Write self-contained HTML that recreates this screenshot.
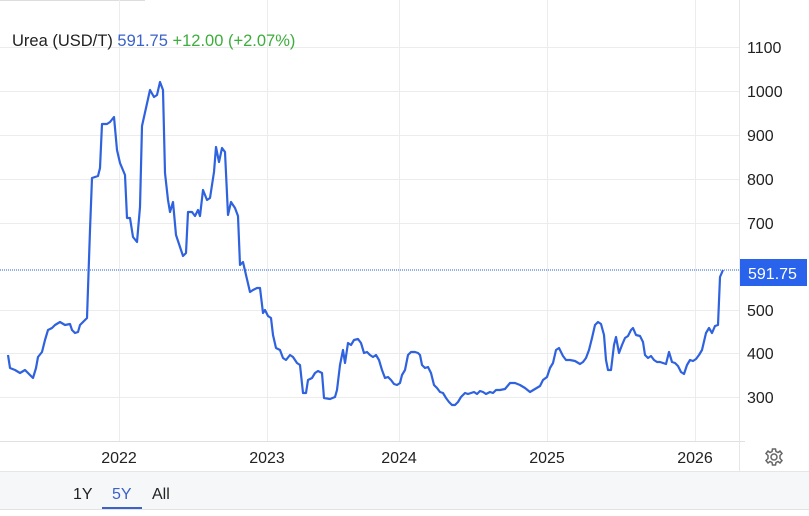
<!DOCTYPE html>
<html><head><meta charset="utf-8"><style>
body{margin:0;width:809px;height:516px;background:#fff;overflow:hidden;font-family:"Liberation Sans",Arial,sans-serif}
</style></head><body>
<svg width="809" height="516" xmlns="http://www.w3.org/2000/svg" style="position:absolute;left:0;top:0">
<line x1="0" y1="0.5" x2="145" y2="0.5" stroke="#ddd"/>
<g stroke="#ececec" stroke-width="1">
<line x1="0" y1="47.5" x2="740" y2="47.5"/>
<line x1="0" y1="91.5" x2="740" y2="91.5"/>
<line x1="0" y1="135.5" x2="740" y2="135.5"/>
<line x1="0" y1="179.5" x2="740" y2="179.5"/>
<line x1="0" y1="223.5" x2="740" y2="223.5"/>
<line x1="0" y1="310.5" x2="740" y2="310.5"/>
<line x1="0" y1="353.5" x2="740" y2="353.5"/>
<line x1="0" y1="397.5" x2="740" y2="397.5"/>
<line x1="119.5" y1="0" x2="119.5" y2="441"/>
<line x1="267.5" y1="0" x2="267.5" y2="441"/>
<line x1="399.5" y1="0" x2="399.5" y2="441"/>
<line x1="547.5" y1="0" x2="547.5" y2="441"/>
<line x1="695.5" y1="0" x2="695.5" y2="441"/>
</g>
<line x1="0" y1="441.5" x2="745" y2="441.5" stroke="#e0e0e0"/>
<line x1="739.5" y1="0" x2="739.5" y2="471" stroke="#e6e6e6"/>
<line x1="0" y1="270" x2="740" y2="270" stroke="#2962d9" stroke-width="1" stroke-dasharray="1,1"/>
<rect x="0" y="471" width="809" height="38" fill="#f6f7f9"/>
<line x1="0" y1="471.5" x2="809" y2="471.5" stroke="#e6e6e6"/>
<line x1="0" y1="509.5" x2="809" y2="509.5" stroke="#e2e2e2"/>
<polyline fill="none" stroke="#2f62de" stroke-width="2.2" stroke-linejoin="round" points="8,355 10,368 15,370 20,373 25,370 30,375 33,378 36,368 38,357 42,352 45,340 48,330 52,328 55,325 60,322 65,325 70,324 72,330 75,333 78,332 80,325 85,320 87,318 90,230 92,178 98,176 100,168 102,124 107,124 110,122 114,117 117,150 120,163 125,175 127,218 130,218 133,237 137,242 140,207 142,126 146,108 150,90 154,97 157,95 160,82 163,90 165,173 168,200 170,212 173,202 176,235 180,247 183,256 186,253 188,212 192,212 195,216 198,210 200,216 203,190 207,200 210,198 214,172 216,147 219,162 222,148 225,152 228,215 231,202 235,208 238,216 240,265 243,262 246,275 250,292 253,290 257,288 260,288 263,313 265,310 268,316 271,318 273,335 276,348 280,350 283,358 286,360 290,355 293,357 297,363 300,365 303,393 306,393 308,380 312,378 315,373 318,371 322,373 324,398 330,399 335,397 337,390 340,365 343,350 345,363 348,343 351,345 354,340 358,339 361,343 364,353 367,352 370,355 373,357 376,355 379,360 382,370 385,378 388,377 391,380 394,384 397,385 400,383 402,375 405,370 408,355 411,352 415,352 418,353 420,355 422,365 425,368 428,367 431,373 434,385 437,388 440,392 443,393 446,398 449,402 452,405 455,405 458,402 461,397 465,393 468,394 471,393 474,392 477,394 480,391 483,392 486,394 490,392 493,393 496,390 500,390 505,389 510,383 515,383 520,385 525,388 530,392 535,389 540,386 543,380 547,377 550,368 553,363 556,350 559,348 563,356 566,360 570,360 575,361 580,364 583,362 586,358 589,350 592,338 595,325 598,322 601,324 604,335 606,360 608,370 611,370 614,345 616,337 619,353 622,345 625,338 628,336 631,330 633,328 636,335 640,336 643,342 645,355 648,358 651,356 654,360 657,362 660,362 663,363 666,364 669,352 672,362 675,363 678,366 681,372 684,374 687,365 690,360 693,361 696,359 699,355 702,350 706,333 709,328 712,333 715,326 718,325 720,277 723,270"/>
<g font-size="16" fill="#222">
<text x="747" y="53">1100</text>
<text x="747" y="97">1000</text>
<text x="747" y="141">900</text>
<text x="747" y="185">800</text>
<text x="747" y="229">700</text>
<text x="747" y="316">500</text>
<text x="747" y="359">400</text>
<text x="747" y="403">300</text>
<text x="119" y="463" text-anchor="middle">2022</text>
<text x="267" y="463" text-anchor="middle">2023</text>
<text x="399" y="463" text-anchor="middle">2024</text>
<text x="547" y="463" text-anchor="middle">2025</text>
<text x="695" y="463" text-anchor="middle">2026</text>
</g>
<rect x="740" y="259" width="67" height="27" fill="#2962eb"/>
<text x="748" y="279" font-size="16" fill="#fff">591.75</text>
<text x="12" y="46" font-size="16.5"><tspan fill="#222">Urea (USD/T) </tspan><tspan fill="#3a62c9">591.75 </tspan><tspan fill="#3cae3c"> +12.00 (+2.07%)</tspan></text>
<g font-size="16">
<text x="73" y="499" fill="#222">1Y</text>
<text x="112" y="499" fill="#3a62c9">5Y</text>
<text x="152" y="499" fill="#222">All</text>
</g>
<rect x="102" y="507" width="40" height="2" fill="#3a62c9"/>
<g transform="translate(774,457)" fill="none" stroke="#666" stroke-width="1.5">
<circle r="3"/>
<path d="M-1.5,-8 L1.5,-8 L2,-5.5 L4,-4.5 L6,-6 L8,-3.5 L6,-1.5 L6,1.5 L8,3.5 L6,6 L4,4.5 L2,5.5 L1.5,8 L-1.5,8 L-2,5.5 L-4,4.5 L-6,6 L-8,3.5 L-6,1.5 L-6,-1.5 L-8,-3.5 L-6,-6 L-4,-4.5 L-2,-5.5 Z"/>
</g>
</svg>
</body></html>
